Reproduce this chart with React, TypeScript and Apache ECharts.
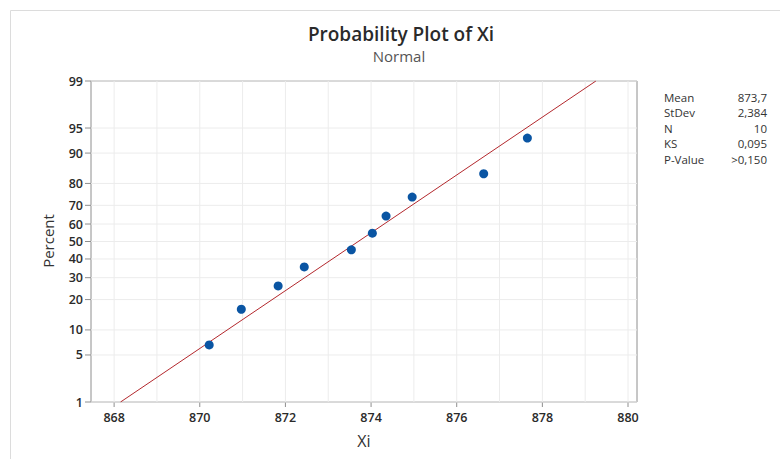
import React, { useEffect, useRef } from 'react';
import * as echarts from 'echarts';

const dataXi = [870.22, 870.97, 871.83, 872.44, 873.54, 874.03, 874.35, 874.96, 876.63, 877.65];
const dataPct = [6.7, 16.3, 26.0, 35.6, 45.2, 54.8, 64.4, 74.0, 83.7, 93.3];
// Fitted normal line end points
const fitX = [868.15, 879.25];
const fitPct = [1, 99];
// Axis ticks
const yTickPct = [1, 5, 10, 20, 30, 40, 50, 60, 70, 80, 90, 95, 99];
const xTickValues = [868, 870, 872, 874, 876, 878, 880];
const xMinorGrid = [869, 871, 873, 875, 877, 879];
// Statistics box
const statLabels = ['Mean', 'StDev', 'N', 'KS', 'P-Value'];
const statValues = ['873,7', '2,384', '10', '0,095', '>0,150'];

const X_MIN = 867.46;
const X_MAX = 880.21;

// inverse standard normal CDF (Acklam)
function probit(p: number): number {
  const a = [-3.969683028665376e1, 2.209460984245205e2, -2.759285104469687e2, 1.38357751867269e2, -3.066479806614716e1, 2.506628277459239];
  const b = [-5.447609879822406e1, 1.615858368580409e2, -1.556989798598866e2, 6.680131188771972e1, -1.328068155288572e1];
  const c = [-7.784894002430293e-3, -3.223964580411365e-1, -2.400758277161838, -2.549732539343734, 4.374664141464968, 2.938163982698783];
  const d = [7.784695709041462e-3, 3.224671290700398e-1, 2.445134137142996, 3.754408661907416];
  const pl = 0.02425;
  let q: number, r: number;
  if (p < pl) {
    q = Math.sqrt(-2 * Math.log(p));
    return (((((c[0] * q + c[1]) * q + c[2]) * q + c[3]) * q + c[4]) * q + c[5]) / ((((d[0] * q + d[1]) * q + d[2]) * q + d[3]) * q + 1);
  } else if (p <= 1 - pl) {
    q = p - 0.5;
    r = q * q;
    return ((((((a[0] * r + a[1]) * r + a[2]) * r + a[3]) * r + a[4]) * r + a[5]) * q) / (((((b[0] * r + b[1]) * r + b[2]) * r + b[3]) * r + b[4]) * r + 1);
  } else {
    q = Math.sqrt(-2 * Math.log(1 - p));
    return -(((((c[0] * q + c[1]) * q + c[2]) * q + c[3]) * q + c[4]) * q + c[5]) / ((((d[0] * q + d[1]) * q + d[2]) * q + d[3]) * q + 1);
  }
}

const Z_MIN = probit(0.01);
const Z_MAX = probit(0.99);
const FONT = '"Open Sans", "Noto Sans", sans-serif';

export default function App() {
  const ref = useRef<HTMLDivElement>(null);
  useEffect(() => {
    if (!ref.current) return;
    const chart = echarts.init(ref.current, undefined, { renderer: 'svg' });

    const xTickData = [
      ...xTickValues.map((v) => [v, Z_MIN, 1]),
      ...xMinorGrid.map((v) => [v, Z_MIN, 0]),
    ];
    const yTickData = yTickPct.map((p) => [X_MIN, probit(p / 100), p]);

    const option: any = {
      animation: false,
      backgroundColor: '#ffffff',
      grid: {
        left: 91,
        top: 81,
        width: 546,
        height: 321,
        show: true,
        borderColor: '#8e8e8e',
        borderWidth: 1,
        backgroundColor: 'transparent',
      },
      xAxis: {
        type: 'value',
        min: X_MIN,
        max: X_MAX,
        axisLine: { show: false },
        axisTick: { show: false },
        axisLabel: { show: false },
        splitLine: { show: false },
      },
      yAxis: {
        type: 'value',
        min: Z_MIN,
        max: Z_MAX,
        axisLine: { show: false },
        axisTick: { show: false },
        axisLabel: { show: false },
        splitLine: { show: false },
      },
      graphic: [
        {
          type: 'rect',
          shape: { x: 10.5, y: 10.5, width: 900, height: 600 },
          style: { fill: 'none', stroke: '#dcdcdc', lineWidth: 1 },
          silent: true,
          z: 0,
        },
        {
          type: 'text',
          x: 401,
          y: 34,
          style: { text: 'Probability Plot of Xi', align: 'center', verticalAlign: 'middle', fontSize: 19, fontFamily: FONT, fill: '#2a2a2a', fontWeight: 600 },
        },
        {
          type: 'text',
          x: 399,
          y: 56,
          style: { text: 'Normal', align: 'center', verticalAlign: 'middle', fontSize: 15, fontFamily: FONT, fill: '#555555' },
        },
        {
          type: 'text',
          x: 48,
          y: 241,
          rotation: Math.PI / 2,
          style: { text: 'Percent', align: 'center', verticalAlign: 'middle', fontSize: 15, fontFamily: FONT, fill: '#333333' },
        },
        {
          type: 'text',
          x: 364,
          y: 441,
          style: { text: 'Xi', align: 'center', verticalAlign: 'middle', fontSize: 16, fontFamily: FONT, fill: '#333333' },
        },
        ...statLabels.map((t, i) => ({
          type: 'text',
          x: 664,
          y: 97 + i * 15.6,
          style: { text: t, align: 'left', verticalAlign: 'middle', fontSize: 11.5, fontFamily: FONT, fill: '#333333' },
        })),
        ...statValues.map((t, i) => ({
          type: 'text',
          x: 767,
          y: 97 + i * 15.6,
          style: { text: t, align: 'right', verticalAlign: 'middle', fontSize: 11.5, fontFamily: FONT, fill: '#333333' },
        })),
      ],
      series: [
        {
          type: 'custom',
          name: 'xTicks',
          silent: true,
          clip: false,
          z: 1,
          encode: { x: 0, y: 1 },
          data: xTickData,
          renderItem: (params: any, api: any) => {
            const v = api.value(0);
            const major = api.value(2) === 1;
            const bot = api.coord([v, Z_MIN]);
            const top = api.coord([v, Z_MAX]);
            const children: any[] = [
              {
                type: 'line',
                shape: { x1: bot[0], y1: bot[1], x2: top[0], y2: top[1] },
                style: { stroke: '#ececec', lineWidth: 1 },
              },
            ];
            if (major) {
              children.push({
                type: 'line',
                shape: { x1: bot[0], y1: bot[1], x2: bot[0], y2: bot[1] + 5 },
                style: { stroke: '#8e8e8e', lineWidth: 1 },
              });
              children.push({
                type: 'text',
                x: bot[0],
                y: bot[1] + 15,
                style: { text: String(v), align: 'center', verticalAlign: 'middle', fontSize: 12.5, fontWeight: 600, fontFamily: FONT, fill: '#2a2a2a' },
              });
            }
            return { type: 'group', children };
          },
        },
        {
          type: 'custom',
          name: 'yTicks',
          silent: true,
          clip: false,
          z: 1,
          encode: { x: 0, y: 1 },
          data: yTickData,
          renderItem: (params: any, api: any) => {
            const z = api.value(1);
            const p = api.value(2);
            const l = api.coord([X_MIN, z]);
            const r = api.coord([X_MAX, z]);
            return {
              type: 'group',
              children: [
                {
                  type: 'line',
                  shape: { x1: l[0], y1: l[1], x2: r[0], y2: r[1] },
                  style: { stroke: '#ececec', lineWidth: 1 },
                },
                {
                  type: 'line',
                  shape: { x1: l[0] - 6, y1: l[1], x2: l[0], y2: l[1] },
                  style: { stroke: '#8e8e8e', lineWidth: 1 },
                },
                {
                  type: 'text',
                  x: l[0] - 8,
                  y: l[1],
                  style: { text: String(p), align: 'right', verticalAlign: 'middle', fontSize: 12.5, fontWeight: 600, fontFamily: FONT, fill: '#2a2a2a' },
                },
              ],
            };
          },
        },
        {
          type: 'line',
          name: 'Fit',
          z: 3,
          symbol: 'none',
          data: fitX.map((x, i) => [x, probit(fitPct[i] / 100)]),
          lineStyle: { color: '#b3282d', width: 1 },
          silent: true,
        },
        {
          type: 'scatter',
          name: 'Xi',
          z: 4,
          symbol: 'circle',
          symbolSize: 9,
          data: dataXi.map((x, i) => [x, probit(dataPct[i] / 100)]),
          itemStyle: { color: '#0a55a3', opacity: 1 },
        },
      ],
    };
    chart.setOption(option);
    return () => chart.dispose();
  }, []);

  return <div ref={ref} style={{ position: 'absolute', left: 0, top: 0, width: 780, height: 459 }} />;
}
